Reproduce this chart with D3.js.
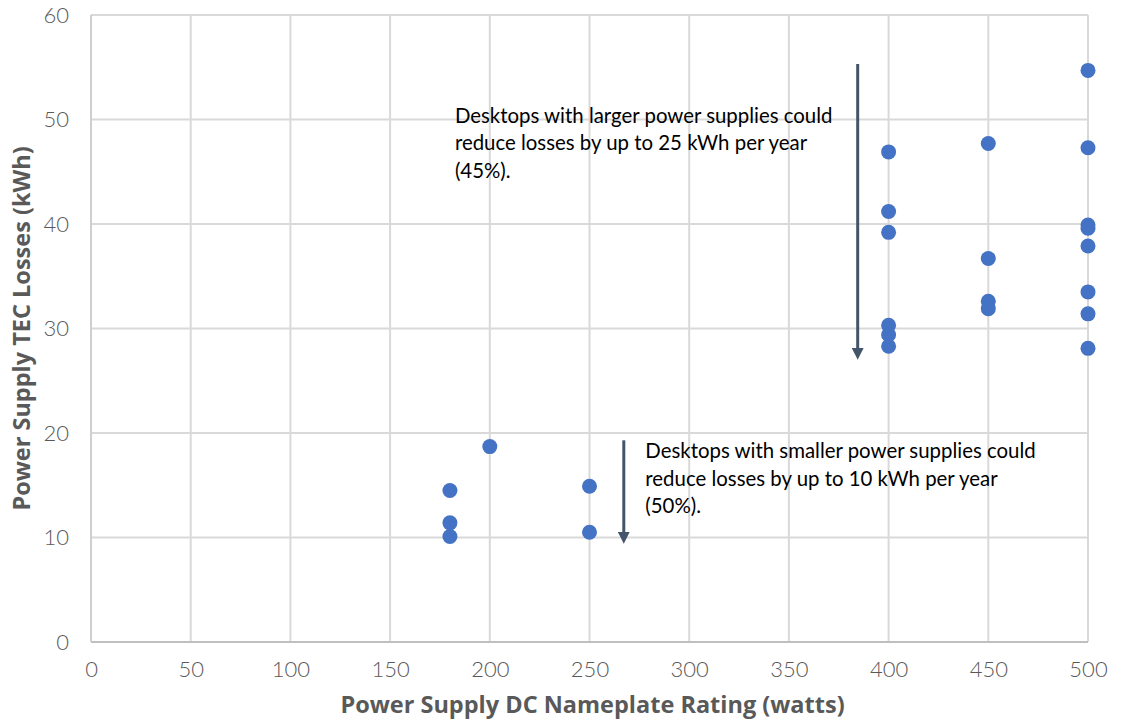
<!DOCTYPE html>
<html>
<head>
<meta charset="utf-8">
<script src="https://cdn.jsdelivr.net/npm/d3@7"></script>
<style>
  body { margin: 0; background: #fff; }
  svg { display: block; }
</style>
</head>
<body>
<svg id="chart" width="1123" height="721"></svg>
<script>
// values
const ratingWatts = [400, 400, 400, 400, 400, 400,
                     450, 450, 450, 450,
                     500, 500, 500, 500, 500, 500, 500, 500,
                     180, 180, 180, 200, 250, 250];
const lossesKwh = [46.9, 41.2, 39.2, 30.3, 29.4, 28.3,
                   47.7, 36.7, 32.6, 31.9,
                   54.7, 47.3, 39.9, 39.6, 37.9, 33.5, 31.4, 28.1,
                   14.5, 11.4, 10.1, 18.7, 14.9, 10.5];
const xTicks = [0, 50, 100, 150, 200, 250, 300, 350, 400, 450, 500];
const yTicks = [0, 10, 20, 30, 40, 50, 60];

const notes = [
  { x: 384.5, y0: 55.3, y1: 27.0, tx: 182.5, ty: 49.7,
    lines: ['Desktops with larger power supplies could', 'reduce losses by up to 25 kWh per year', '(45%).'] },
  { x: 267.2, y0: 19.3, y1: 9.4, tx: 278, ty: 17.6,
    lines: ['Desktops with smaller power supplies could', 'reduce losses by up to 10 kWh per year', '(50%).'] }
];

const svg = d3.select('#chart');
const margin = { top: 15, right: 35, bottom: 79, left: 91 };
const width = 1123, height = 721;

const x = d3.scaleLinear().domain([0, 500]).range([margin.left, width - margin.right]);
const y = d3.scaleLinear().domain([0, 60]).range([height - margin.bottom, margin.top]);

// grid
svg.append('g')
  .selectAll('line.v')
  .data(xTicks)
  .join('line')
  .attr('x1', d => x(d)).attr('x2', d => x(d))
  .attr('y1', y(0)).attr('y2', y(60))
  .attr('stroke', '#d9d9d9').attr('stroke-width', 2);

svg.append('g')
  .selectAll('line.h')
  .data(yTicks)
  .join('line')
  .attr('x1', x(0)).attr('x2', x(500))
  .attr('y1', d => y(d)).attr('y2', d => y(d))
  .attr('stroke', d => d === 0 ? '#bfbfbf' : '#d9d9d9').attr('stroke-width', 2);

svg.append('line')
  .attr('x1', x(0)).attr('x2', x(0))
  .attr('y1', y(0)).attr('y2', y(60))
  .attr('stroke', '#cfcfcf').attr('stroke-width', 2);

// axes (labels only)
const xAxis = svg.append('g')
  .attr('transform', `translate(0,${y(0)})`)
  .call(d3.axisBottom(x).tickValues(xTicks).tickSize(0).tickPadding(19));
const yAxis = svg.append('g')
  .attr('transform', `translate(${x(0)},0)`)
  .call(d3.axisLeft(y).tickValues(yTicks).tickSize(0).tickPadding(22));
[xAxis, yAxis].forEach(g => {
  g.select('.domain').remove();
  g.selectAll('text')
    .attr('fill', '#595959')
    .style('font-family', 'Lato, "Open Sans", sans-serif')
    .style('font-weight', 300)
    .style('font-size', '22px');
});

svg.append('text')
  .attr('x', (x(0) + x(500)) / 2 + 3)
  .attr('y', 713)
  .attr('text-anchor', 'middle')
  .attr('fill', '#595959')
  .style('font-family', '"Open Sans", sans-serif')
  .style('font-weight', 'bold')
  .style('font-size', '23.5px')
  .text('Power Supply DC Nameplate Rating (watts)');

svg.append('text')
  .attr('transform', `translate(30,${(y(0) + y(60)) / 2}) rotate(-90)`)
  .attr('text-anchor', 'middle')
  .attr('fill', '#595959')
  .style('font-family', '"Open Sans", sans-serif')
  .style('font-weight', 'bold')
  .style('font-size', '23.5px')
  .text('Power Supply TEC Losses (kWh)');

// arrows
svg.append('defs').append('marker')
  .attr('id', 'head')
  .attr('viewBox', '0 0 10 10')
  .attr('refX', 5).attr('refY', 5)
  .attr('markerWidth', 4).attr('markerHeight', 4)
  .attr('markerUnits', 'strokeWidth')
  .attr('orient', 'auto')
  .append('path')
  .attr('d', 'M0,0 L10,5 L0,10 Z')
  .attr('fill', '#44546a');

svg.append('g')
  .selectAll('line')
  .data(notes)
  .join('line')
  .attr('x1', d => x(d.x)).attr('x2', d => x(d.x))
  .attr('y1', d => y(d.y0)).attr('y2', d => y(d.y1) - 6)
  .attr('stroke', '#44546a').attr('stroke-width', 3)
  .attr('marker-end', 'url(#head)');

const noteText = svg.append('g')
  .selectAll('text')
  .data(notes)
  .join('text')
  .attr('fill', '#000')
  .style('font-family', 'Lato, sans-serif')
  .style('font-size', '20.4px');
noteText.selectAll('tspan')
  .data(d => d.lines.map((l, i) => ({ l, i, d })))
  .join('tspan')
  .attr('x', t => x(t.d.tx))
  .attr('y', t => y(t.d.ty) + t.i * 27.5)
  .text(t => t.l);

// points
svg.append('g')
  .selectAll('circle')
  .data(ratingWatts.map((w, i) => [w, lossesKwh[i]]))
  .join('circle')
  .attr('cx', d => x(d[0]))
  .attr('cy', d => y(d[1]))
  .attr('r', 7.5)
  .attr('fill', '#4472c4');
</script>
</body>
</html>
